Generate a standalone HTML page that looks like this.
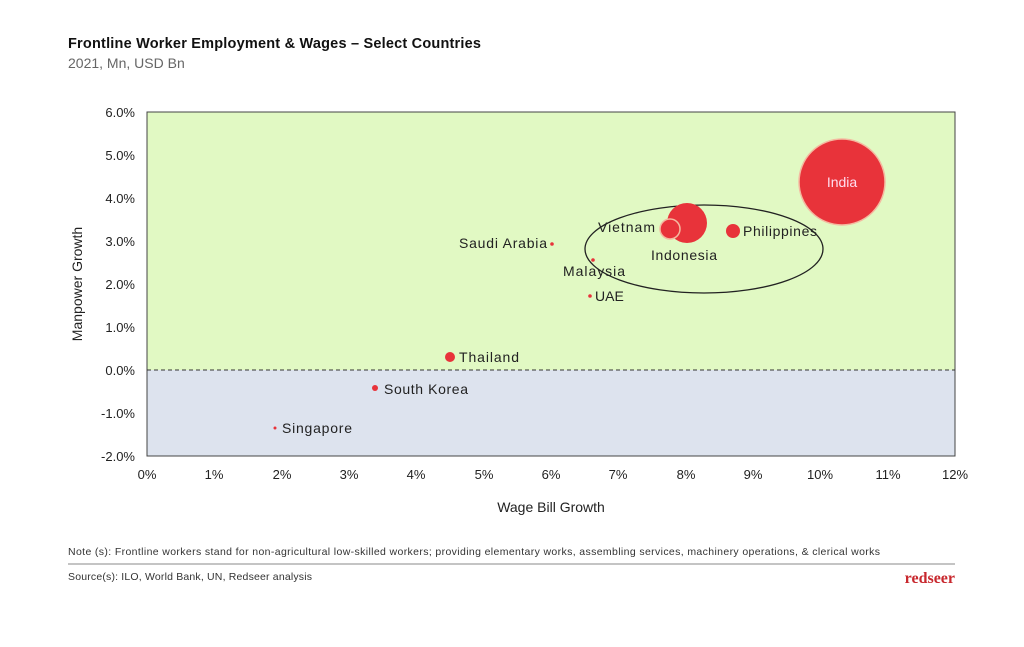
<!DOCTYPE html>
<html><head><meta charset="utf-8"><style>
body{margin:0;background:#fff;width:1024px;height:642px;overflow:hidden;font-family:"Liberation Sans",sans-serif}
</style></head><body>
<svg width="1024" height="642" xmlns="http://www.w3.org/2000/svg" font-family="Liberation Sans, sans-serif">
<text x="68" y="48" font-size="14.5" font-weight="bold" fill="#111" textLength="413">Frontline Worker Employment &amp; Wages – Select Countries</text>
<text x="68" y="68" font-size="14" fill="#666">2021, Mn, USD Bn</text>
<rect x="147" y="112" width="808" height="258" fill="#e1f9c3"/>
<rect x="147" y="370" width="808" height="86" fill="#dde3ee"/>
<rect x="147" y="112" width="808" height="344" fill="none" stroke="#444" stroke-width="1"/>
<line x1="147" y1="370" x2="955" y2="370" stroke="#333" stroke-dasharray="4,3"/>
<g font-size="13" fill="#222" text-anchor="end">
<text x="135" y="117">6.0%</text><text x="135" y="160">5.0%</text><text x="135" y="203">4.0%</text><text x="135" y="246">3.0%</text><text x="135" y="289">2.0%</text><text x="135" y="332">1.0%</text><text x="135" y="375">0.0%</text><text x="135" y="418">-1.0%</text><text x="135" y="461">-2.0%</text>
</g>
<g font-size="13" fill="#222" text-anchor="middle">
<text x="147" y="479">0%</text><text x="214" y="479">1%</text><text x="282" y="479">2%</text><text x="349" y="479">3%</text><text x="416" y="479">4%</text><text x="484" y="479">5%</text><text x="551" y="479">6%</text><text x="618" y="479">7%</text><text x="686" y="479">8%</text><text x="753" y="479">9%</text><text x="820" y="479">10%</text><text x="888" y="479">11%</text><text x="955" y="479">12%</text>
</g>
<text x="551" y="512" font-size="14" text-anchor="middle" fill="#222">Wage Bill Growth</text>
<text transform="translate(82,284) rotate(-90)" font-size="14" text-anchor="middle" fill="#222">Manpower Growth</text>
<circle cx="842" cy="182" r="43" fill="#e8333a" stroke="#f4b9a0" stroke-width="1.5"/>
<text x="842" y="187" font-size="14" fill="#fde" text-anchor="middle">India</text>
<ellipse cx="704" cy="249" rx="119" ry="44" fill="none" stroke="#222" stroke-width="1.3"/>
<circle cx="687" cy="223" r="20" fill="#e8333a"/>
<circle cx="670" cy="229" r="10" fill="#e8333a" stroke="#f4b9a0" stroke-width="1.5"/>
<circle cx="733" cy="231" r="7" fill="#e8333a"/>
<circle cx="450" cy="357" r="5" fill="#e8333a"/>
<circle cx="375" cy="388" r="3" fill="#e8333a"/>
<circle cx="552" cy="244" r="1.8" fill="#e8333a"/>
<circle cx="593" cy="260" r="1.8" fill="#e8333a"/>
<circle cx="590" cy="296" r="1.8" fill="#e8333a"/>
<circle cx="275" cy="428" r="1.5" fill="#e8333a"/>
<g font-size="14" fill="#222">
<text x="598" y="232" textLength="57">Vietnam</text>
<text x="651" y="260" textLength="66">Indonesia</text>
<text x="743" y="236" textLength="74">Philippines</text>
<text x="459" y="248" textLength="88">Saudi Arabia</text>
<text x="563" y="276" textLength="62">Malaysia</text>
<text x="595" y="301">UAE</text>
<text x="459" y="362" textLength="60">Thailand</text>
<text x="384" y="394" textLength="84">South Korea</text>
<text x="282" y="433" textLength="70">Singapore</text>
</g>
<text x="68" y="555" font-size="10.5" fill="#333" textLength="812">Note (s): Frontline workers stand for non-agricultural low-skilled workers; providing elementary works, assembling services, machinery operations, &amp; clerical works</text>
<line x1="68" y1="564" x2="955" y2="564" stroke="#888" stroke-width="1"/>
<text x="68" y="580" font-size="10.5" fill="#333" textLength="244">Source(s): ILO, World Bank, UN, Redseer analysis</text>
<text x="955" y="583" font-size="16" font-weight="bold" font-family="Liberation Serif, serif" fill="#c8282e" text-anchor="end">redseer</text>
</svg>
</body></html>
